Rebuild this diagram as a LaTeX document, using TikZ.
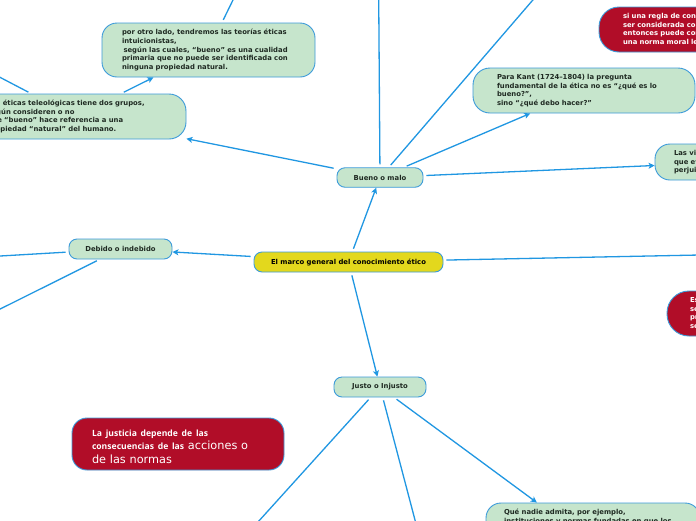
\documentclass[tikz,border=0pt]{standalone}
\usepackage{fontspec}
\setmainfont{DejaVu Sans}
\newfontfamily\osans{Open Sans}
\usetikzlibrary{arrows.meta}
\definecolor{mint}{HTML}{C6E5CC}
\definecolor{bord}{HTML}{3C9BDA}
\definecolor{linec}{HTML}{2097E2}
\definecolor{crim}{HTML}{B10D28}
\definecolor{yel}{HTML}{E3D81D}
\definecolor{dtext}{HTML}{1F2A22}
\tikzset{
  base/.style={draw=bord, line width=0.9pt, inner ysep=0pt,
    font=\fontsize{6.85}{8.7}\selectfont\bfseries},
  greenbox/.style={base, fill=mint, text=dtext},
  redbox/.style={base, fill=crim, text=white},
  yelbox/.style={base, fill=yel, text=black},
  pill/.style={rounded corners=8pt, align=center, inner xsep=0pt},
  txt/.style={align=left},
  conn/.style={draw=linec, line width=1.3pt, shorten <=3pt},
  arr/.style={conn, -{Stealth[length=6pt,width=6pt,inset=1.5pt]}}
}
\begin{document}
\begin{tikzpicture}[x=1pt,y=-1pt]
\fill[white] (0,0) rectangle (696,520);
\useasboundingbox (0,0) rectangle (696,520);

% main and branch nodes
\node[yelbox, pill, minimum width=189pt, minimum height=20pt] (center) at (348.5,262) {El marco general del conocimiento ético};
\node[greenbox, pill, minimum width=86pt, minimum height=19.5pt] (bueno) at (380,177.5) {Bueno o malo};
\node[greenbox, pill, minimum width=103pt, minimum height=20pt] (debido) at (120.5,249) {Debido o indebido};
\node[greenbox, pill, minimum width=92pt, minimum height=20pt] (justo) at (380,387) {Justo o Injusto};

% text nodes
\node[greenbox, txt, rounded corners=17pt, minimum height=45pt, text width=175pt, inner xsep=23.5pt] (teleo) at (75,116.5)
 {Las éticas teleológicas tiene dos grupos,\\ según consideren o no\\ que “bueno” hace referencia a una\\ propiedad “natural” del humano.};
\node[greenbox, txt, rounded corners=15pt, minimum height=54pt, text width=173pt, inner xsep=20pt] (otro) at (208.5,50)
 {por otro lado, tendremos las teorías éticas\\ intuicionistas,\\ \hspace*{1.5pt}según las cuales, “bueno” es una cualidad\\ primaria que no puede ser identificada con\\ ninguna propiedad natural.};
\node[greenbox, txt, rounded corners=17pt, minimum height=45pt, text width=174pt, inner xsep=24pt] (kant) at (584,90.5)
 {Para Kant (1724–1804) la pregunta\\ fundamental de la ética no es “¿qué es lo\\ bueno?”,\\ sino “¿qué debo hacer?”};
\node[redbox, txt, rounded corners=20pt, minimum height=45pt, text width=172pt, inner xsep=24pt] (regla) at (709,29.5)
 {si una regla de conducta puede\\ ser considerada como ley universal,\\ entonces puede considerarse\\ una norma moral legítima.};
\node[greenbox, txt, rounded corners=15pt, minimum height=36pt, text width=122pt, inner xsep=19pt] (lasvi) at (735,162)
 {Las virtudes son hábitos\\ que evitan el daño o el\\ perjuicio.};
\node[redbox, txt, rounded corners=22pt, minimum height=45pt, text width=154pt, inner xsep=23pt] (esnode) at (767,313.5)
 {Es justo lo que\\ se ajusta a los\\ principios que\\ se aceptan.};
\node[redbox, txt, rounded corners=15pt, minimum height=52pt, text width=172pt, inner xsep=20pt,
  font=\fontsize{11.3}{13.5}\selectfont] (justicia) at (178,444)
 {{\osans\bfseries\fontsize{8.6}{13.5}\selectfont\rule{0pt}{12pt}La justicia depende de las\\ consecuencias de las }acciones o\\ de las normas};
\node[greenbox, txt, rounded corners=15pt, minimum height=82pt, text width=178pt, inner xsep=18pt, inner ysep=6pt] (nadie) at (593,544)
 {\parbox[t][70pt][t]{178pt}{\raggedright Qué nadie admita, por ejemplo,\\ instituciones y normas fundadas en que los}};

% off-picture ends
\coordinate (cR) at (800,253);
\coordinate (cUp) at (378,-100);
\coordinate (cUR) at (594,-71);
\coordinate (cUL) at (-60,46);
\coordinate (cOtroUp) at (257.5,-50);
\coordinate (cDL) at (-60,259.5);
\coordinate (cDLL) at (-60,339);
\coordinate (cJL) at (220,564);
\coordinate (cJD) at (430,577);

% connectors
\draw[arr] (center) -- (bueno);
\draw[arr] (center) -- (debido);
\draw[arr] (center) -- (justo);
\draw[conn] (center) -- (cR);
\draw[arr] (bueno) -- (teleo);
\draw[arr] (bueno) -- (kant);
\draw[arr] (bueno) -- (lasvi);
\draw[conn] (bueno) -- (cUp);
\draw[conn] (bueno) -- (cUR);
\draw[arr] (teleo) -- (otro);
\draw[conn] (teleo) -- (cUL);
\draw[conn] (otro) -- (cOtroUp);
\draw[conn] (debido) -- (cDL);
\draw[conn] (debido) -- (cDLL);
\draw[conn] (justo) -- (cJL);
\draw[conn] (justo) -- (cJD);
\draw[arr] (justo) -- (nadie);
\end{tikzpicture}
\end{document}
